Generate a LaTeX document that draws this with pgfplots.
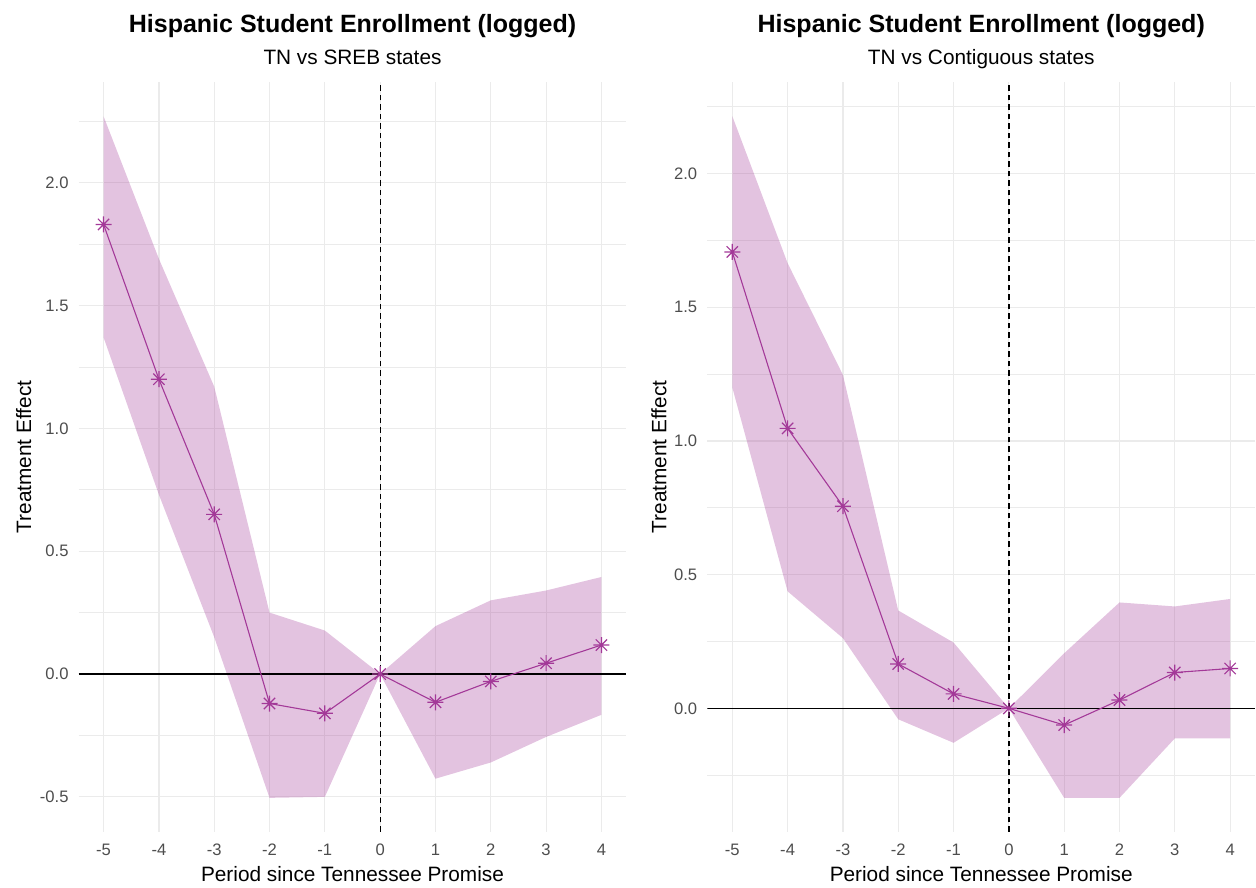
\documentclass[border=0pt]{standalone}
\usepackage{fontspec}
\setmainfont{Liberation Sans}
\usepackage{pgfplots}
\usepackage{pgfplotstable}
\pgfplotsset{compat=1.18}
\usepgfplotslibrary{fillbetween}

\definecolor{pline}{RGB}{163,57,152}
\definecolor{tickgray}{HTML}{4D4D4D}
\definecolor{gridgray}{HTML}{EBEBEB}

\pgfdeclareplotmark{ast8}{%
  \pgfpathmoveto{\pgfqpoint{-\pgfplotmarksize}{0pt}}\pgfpathlineto{\pgfqpoint{\pgfplotmarksize}{0pt}}%
  \pgfpathmoveto{\pgfqpoint{0pt}{-\pgfplotmarksize}}\pgfpathlineto{\pgfqpoint{0pt}{\pgfplotmarksize}}%
  \pgfpathmoveto{\pgfqpoint{-.7071\pgfplotmarksize}{-.7071\pgfplotmarksize}}\pgfpathlineto{\pgfqpoint{.7071\pgfplotmarksize}{.7071\pgfplotmarksize}}%
  \pgfpathmoveto{\pgfqpoint{-.7071\pgfplotmarksize}{.7071\pgfplotmarksize}}\pgfpathlineto{\pgfqpoint{.7071\pgfplotmarksize}{-.7071\pgfplotmarksize}}%
  \pgfusepathqstroke}

% TN vs SREB states
\pgfplotstableread{
x est lo hi
-5 1.83 1.37 2.27
-4 1.20 0.73 1.69
-3 0.65 0.15 1.17
-2 -0.12 -0.504 0.25
-1 -0.16 -0.50 0.177
0 0 0 0
1 -0.115 -0.426 0.195
2 -0.03 -0.36 0.30
3 0.044 -0.256 0.34
4 0.118 -0.166 0.395
}\sreb

% TN vs Contiguous states
\pgfplotstableread{
x est lo hi
-5 1.707 1.20 2.215
-4 1.047 0.4375 1.665
-3 0.756 0.2625 1.247
-2 0.166 -0.041 0.366
-1 0.054 -0.129 0.246
0 0 0 0
1 -0.0625 -0.335 0.206
2 0.031 -0.335 0.396
3 0.134 -0.1125 0.381
4 0.149 -0.1125 0.409
}\contig

\pgfplotsset{
  panel/.style={
    scale only axis, width=547.6pt, height=750pt,
    anchor=south west,
    xmin=-5.45, xmax=4.45,
    xtick={-5,-4,-3,-2,-1,0,1,2,3,4},
    axis line style={draw=none},
    major tick length=0pt, minor tick length=0pt,
    grid=both,
    major grid style={gridgray, line width=1.2pt},
    minor grid style={gridgray, line width=0.7pt},
    /pgf/number format/assume math mode=true,
    tick label style={font=\fontsize{16.6}{20}\selectfont, text=tickgray, inner sep=0pt},
    xticklabel style={anchor=base, yshift=-24pt},
    yticklabel style={anchor=east, xshift=-10pt,
      /pgf/number format/fixed, /pgf/number format/fixed zerofill, /pgf/number format/precision=1},
  },
}
\tikzset{
  ttl/.style={font=\fontsize{25}{30}\selectfont\bfseries, anchor=base, inner sep=0pt},
  subttl/.style={font=\fontsize{20.8}{25}\selectfont, anchor=base, inner sep=0pt},
  lab/.style={font=\fontsize{20.8}{25}\selectfont, anchor=base, inner sep=0pt},
}

\begin{document}
\begin{tikzpicture}
\begin{axis}[panel, name=L, at={(78.7pt,56pt)},
  ymin=-0.643, ymax=2.41,
  ytick={-0.5,0,0.5,1,1.5,2},
  minor ytick={-0.25,0.25,0.75,1.25,1.75,2.25}]
  \addplot[name path=hi, draw=none, forget plot] table[x=x,y=hi]{\sreb};
  \addplot[name path=lo, draw=none, forget plot] table[x=x,y=lo]{\sreb};
  \addplot[fill=pline, fill opacity=0.3, draw=none] fill between[of=hi and lo];
  \draw[black, line width=1.4pt] (axis cs:-5.45,0) -- (axis cs:4.45,0);
  \draw[black, line width=1.3pt, dash pattern=on 5.5pt off 4pt] (axis cs:0,-0.643) -- (axis cs:0,2.41);
  \addplot[pline, line width=1.1pt, mark=ast8, mark size=8pt, mark options={line width=1.2pt}] table[x=x,y=est]{\sreb};
\end{axis}
\node[ttl] at ([yshift=49pt]L.north) {Hispanic Student Enrollment (logged)};
\node[subttl] at ([yshift=17pt]L.north) {TN vs SREB states};
\node[lab] at ([yshift=-50pt]L.south) {Period since Tennessee Promise};
\node[lab, rotate=90] at ([xshift=-47.5pt]L.west) {Treatment Effect};

\begin{axis}[panel, name=R, at={(707.4pt,56pt)},
  ymin=-0.4625, ymax=2.3425,
  ytick={0,0.5,1,1.5,2},
  minor ytick={-0.25,0.25,0.75,1.25,1.75,2.25}]
  \addplot[name path=hi, draw=none, forget plot] table[x=x,y=hi]{\contig};
  \addplot[name path=lo, draw=none, forget plot] table[x=x,y=lo]{\contig};
  \addplot[fill=pline, fill opacity=0.3, draw=none] fill between[of=hi and lo];
  \draw[black, line width=1.4pt] (axis cs:-5.45,0) -- (axis cs:4.45,0);
  \draw[black, line width=1.3pt, dash pattern=on 5.5pt off 4pt] (axis cs:0,-0.4625) -- (axis cs:0,2.3425);
  \addplot[pline, line width=1.1pt, mark=ast8, mark size=8pt, mark options={line width=1.2pt}] table[x=x,y=est]{\contig};
\end{axis}
\node[ttl] at ([yshift=49pt]R.north) {Hispanic Student Enrollment (logged)};
\node[subttl] at ([yshift=17pt]R.north) {TN vs Contiguous states};
\node[lab] at ([yshift=-50pt]R.south) {Period since Tennessee Promise};
\node[lab, rotate=90] at ([xshift=-41pt]R.west) {Treatment Effect};
\pgfresetboundingbox
\path[use as bounding box] (0pt,0pt) rectangle (1256pt,888pt);
\end{tikzpicture}
\end{document}
